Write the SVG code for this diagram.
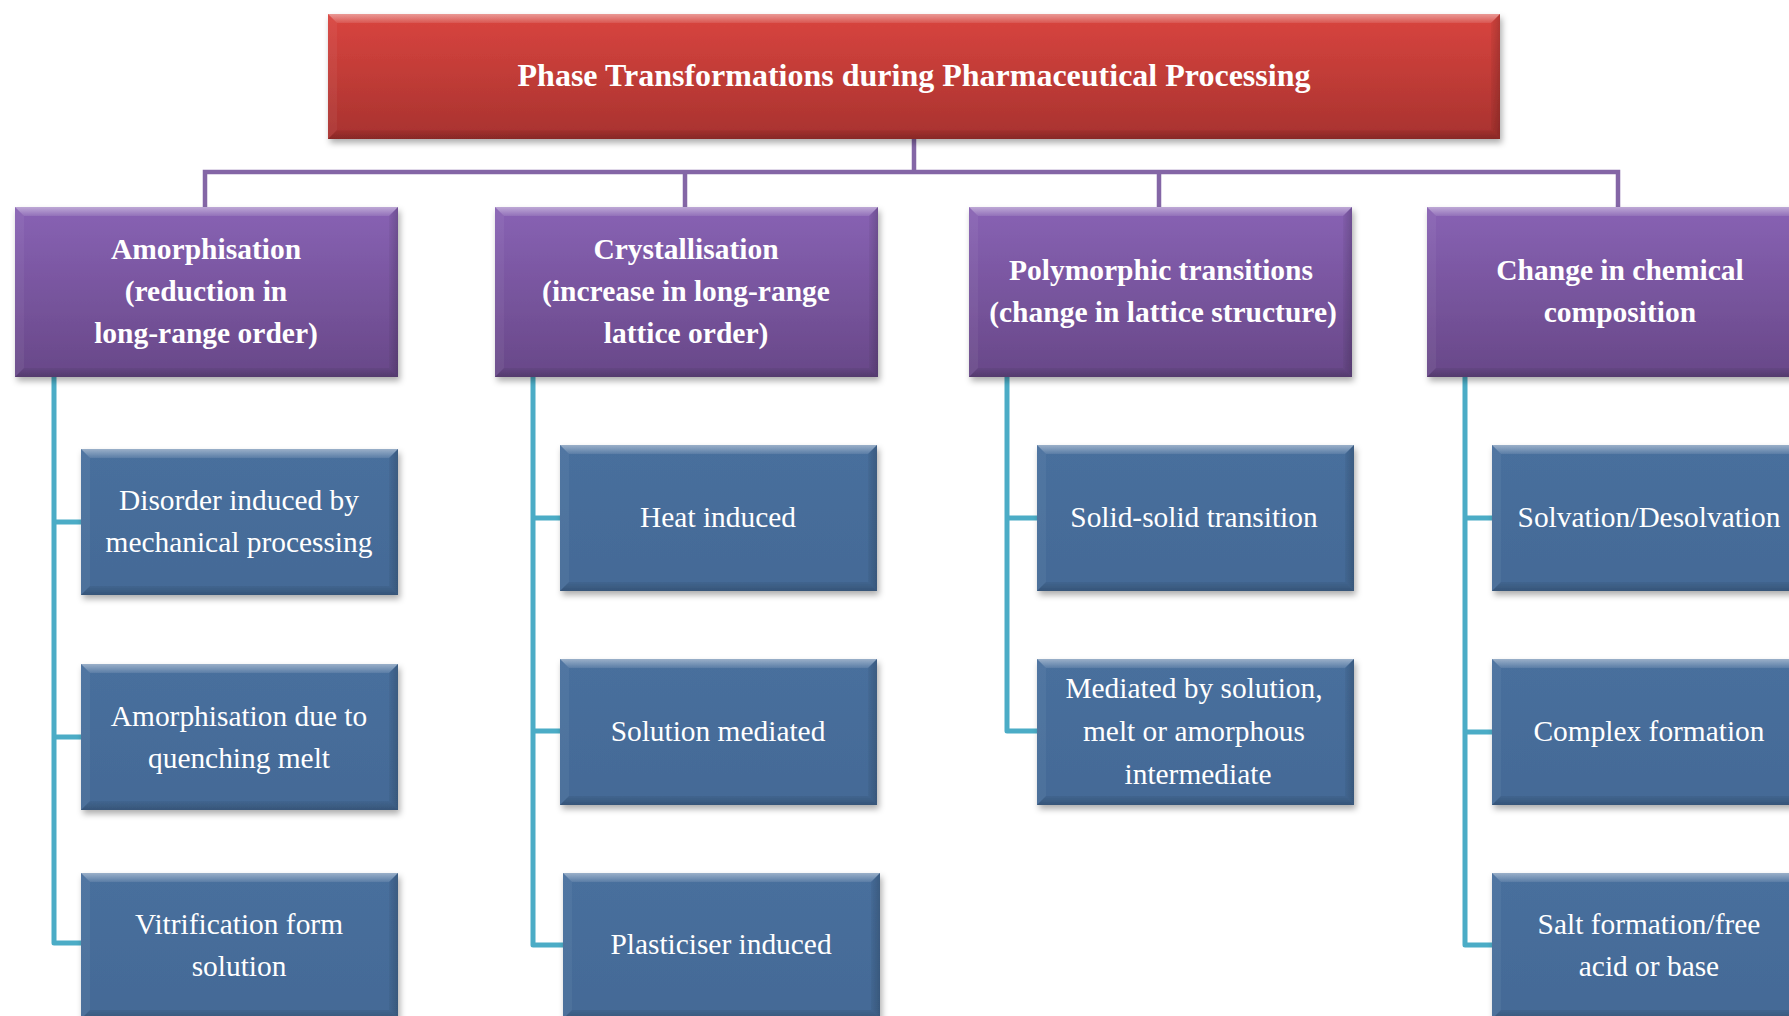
<svg xmlns="http://www.w3.org/2000/svg" xmlns:xlink="http://www.w3.org/1999/xlink" width="1789" height="1016" viewBox="0 0 1789 1016">
<style>
.t{font-family:"Liberation Serif","Times New Roman",serif;fill:#ffffff;text-anchor:middle;}
.b{font-weight:bold;font-size:29.5px;}
.title{font-weight:bold;font-size:32px;}
.r{font-size:29.4px;}
.pc{fill:none;stroke:#8466a6;stroke-width:4.5;}
.tc{fill:none;stroke:#4bacc6;stroke-width:5;stroke-linejoin:round;}
</style>
<defs>
<linearGradient id="gRed" x1="0" y1="0" x2="0" y2="1">
<stop offset="0" stop-color="#d9453f"/><stop offset="1" stop-color="#a8322f"/>
</linearGradient>
<linearGradient id="gPur" x1="0" y1="0" x2="0" y2="1">
<stop offset="0" stop-color="#8862b4"/><stop offset="1" stop-color="#684888"/>
</linearGradient>
<linearGradient id="gBlu" x1="0" y1="0" x2="0" y2="1">
<stop offset="0" stop-color="#486f9d"/><stop offset="1" stop-color="#446a96"/>
</linearGradient>
<linearGradient id="hiTop" x1="0" y1="0" x2="0" y2="1">
<stop offset="0" stop-color="#ffffff" stop-opacity="0.45"/><stop offset="1" stop-color="#ffffff" stop-opacity="0.1"/>
</linearGradient>
<linearGradient id="dkBot" x1="0" y1="0" x2="0" y2="1">
<stop offset="0" stop-color="#000000" stop-opacity="0.05"/><stop offset="1" stop-color="#000000" stop-opacity="0.2"/>
</linearGradient>
<linearGradient id="dkRight" x1="0" y1="0" x2="1" y2="0">
<stop offset="0" stop-color="#000000" stop-opacity="0.04"/><stop offset="1" stop-color="#000000" stop-opacity="0.18"/>
</linearGradient>
<filter id="sh" x="-5%" y="-10%" width="112%" height="125%">
<feDropShadow dx="2" dy="4" stdDeviation="3" flood-color="#000" flood-opacity="0.32"/>
</filter>
<g id="titleShape">
<rect x="0" y="0" width="1172" height="125" fill="url(#gRed)"/>
<polygon points="0,0 1172,0 1163,9 9,9" fill="url(#hiTop)"/>
<polygon points="0,0 9,9 9,116 0,125" fill="#ffffff" opacity="0.05"/>
<polygon points="1172,0 1172,125 1163,116 1163,9" fill="url(#dkRight)"/>
<polygon points="0,125 1172,125 1163,116 9,116" fill="url(#dkBot)"/>
</g>
<g id="l1Shape">
<rect x="0" y="0" width="383" height="170" fill="url(#gPur)"/>
<polygon points="0,0 383,0 374,9 9,9" fill="url(#hiTop)"/>
<polygon points="0,0 9,9 9,161 0,170" fill="#ffffff" opacity="0.05"/>
<polygon points="383,0 383,170 374,161 374,9" fill="url(#dkRight)"/>
<polygon points="0,170 383,170 374,161 9,161" fill="url(#dkBot)"/>
</g>
<g id="l2Shape">
<rect x="0" y="0" width="317" height="146" fill="url(#gBlu)"/>
<polygon points="0,0 317,0 308,9 9,9" fill="url(#hiTop)"/>
<polygon points="0,0 9,9 9,137 0,146" fill="#ffffff" opacity="0.05"/>
<polygon points="317,0 317,146 308,137 308,9" fill="url(#dkRight)"/>
<polygon points="0,146 317,146 308,137 9,137" fill="url(#dkBot)"/>
</g>
</defs>
<rect x="0" y="0" width="1789" height="1016" fill="#ffffff"/>

<g id="connectors">
<path class="pc" d="M914 139 V172 M205 208 V172 H1618 V208 M685 172 V208 M1159 172 V208"/>
<path class="tc" d="M54 377 V943 H81 M54 522 H81 M54 737 H81"/>
<path class="tc" d="M533 377 V945 H563 M533 518 H560 M533 731 H560"/>
<path class="tc" d="M1007 377 V731 H1037 M1007 518 H1037"/>
<path class="tc" d="M1465 377 V945 H1492 M1465 518 H1492 M1465 732 H1492"/>
</g>

<g id="n_title"><use href="#titleShape" x="328" y="14" filter="url(#sh)"/>
<text class="t title" x="914" y="86">Phase Transformations during Pharmaceutical Processing</text></g>

<g id="n_amorph"><use href="#l1Shape" x="15" y="207" filter="url(#sh)"/>
<text class="t b" x="206" y="259">Amorphisation</text>
<text class="t b" x="206" y="301">(reduction in</text>
<text class="t b" x="206" y="343">long-range order)</text></g>

<g id="n_cryst"><use href="#l1Shape" x="495" y="207" filter="url(#sh)"/>
<text class="t b" x="686" y="259">Crystallisation</text>
<text class="t b" x="686" y="301">(increase in long-range</text>
<text class="t b" x="686" y="343">lattice order)</text></g>

<g id="n_poly"><use href="#l1Shape" x="969" y="207" filter="url(#sh)"/>
<text class="t b" x="1161" y="280">Polymorphic transitions</text>
<text class="t b" x="1163" y="322">(change in lattice structure)</text></g>

<g id="n_chem"><use href="#l1Shape" x="1427" y="207" filter="url(#sh)"/>
<text class="t b" x="1620" y="280">Change in chemical</text>
<text class="t b" x="1620" y="322">composition</text></g>

<g id="n_disorder"><use href="#l2Shape" x="81" y="449" filter="url(#sh)"/>
<text class="t r" x="239" y="510">Disorder induced by</text>
<text class="t r" x="239" y="552">mechanical processing</text></g>

<g id="n_quench"><use href="#l2Shape" x="81" y="664" filter="url(#sh)"/>
<text class="t r" x="239" y="726">Amorphisation due to</text>
<text class="t r" x="239" y="768">quenching melt</text></g>

<g id="n_vitri"><use href="#l2Shape" x="81" y="873" filter="url(#sh)"/>
<text class="t r" x="239" y="934">Vitrification form</text>
<text class="t r" x="239" y="976">solution</text></g>

<g id="n_heat"><use href="#l2Shape" x="560" y="445" filter="url(#sh)"/>
<text class="t r" x="718" y="527">Heat induced</text></g>

<g id="n_solmed"><use href="#l2Shape" x="560" y="659" filter="url(#sh)"/>
<text class="t r" x="718" y="741">Solution mediated</text></g>

<g id="n_plast"><use href="#l2Shape" x="563" y="873" filter="url(#sh)"/>
<text class="t r" x="721" y="954">Plasticiser induced</text></g>

<g id="n_solid"><use href="#l2Shape" x="1037" y="445" filter="url(#sh)"/>
<text class="t r" x="1194" y="527">Solid-solid transition</text></g>

<g id="n_mediated"><use href="#l2Shape" x="1037" y="659" filter="url(#sh)"/>
<text class="t r" x="1194" y="698">Mediated by solution,</text>
<text class="t r" x="1194" y="741">melt or amorphous</text>
<text class="t r" x="1198" y="784">intermediate</text></g>

<g id="n_solv"><use href="#l2Shape" x="1492" y="445" filter="url(#sh)"/>
<text class="t r" x="1649" y="527">Solvation/Desolvation</text></g>

<g id="n_complex"><use href="#l2Shape" x="1492" y="659" filter="url(#sh)"/>
<text class="t r" x="1649" y="741">Complex formation</text></g>

<g id="n_salt"><use href="#l2Shape" x="1492" y="873" filter="url(#sh)"/>
<text class="t r" x="1649" y="934">Salt formation/free</text>
<text class="t r" x="1649" y="976">acid or base</text></g>
</svg>
